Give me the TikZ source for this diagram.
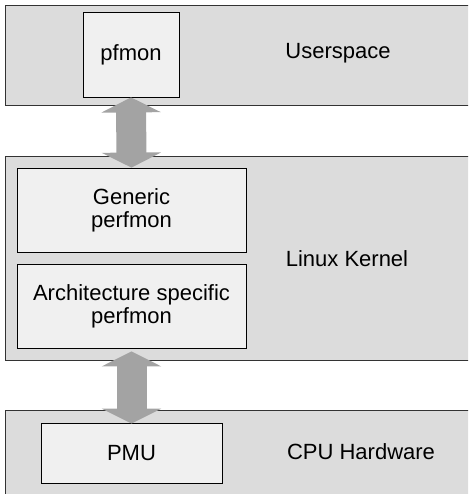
\documentclass[tikz,border=0pt]{standalone}
\usepackage{fontspec}
\setmainfont{Liberation Sans}
\usetikzlibrary{arrows.meta}
\definecolor{bandfill}{HTML}{DCDCDC}
\definecolor{boxfill}{HTML}{F0F0F0}
\definecolor{arrowgray}{HTML}{A3A3A3}
\definecolor{bandline}{HTML}{333333}
\begin{document}
\begin{tikzpicture}[x=1pt,y=-1pt,
  band/.style={draw=bandline,fill=bandfill,line width=0.9pt},
  unitbox/.style={draw=black,fill=boxfill,line width=0.8pt,inner sep=0pt,align=center,
    font=\fontsize{22}{23}\selectfont},
  lbl/.style={inner sep=0pt,font=\fontsize{22}{23}\selectfont},
  biarrow/.style={draw=arrowgray,line width=30pt,
    {Triangle[length=15pt,width=59pt]}-{Triangle[length=15pt,width=59pt]}}]
\useasboundingbox (0,0) rectangle (468,494);
\clip (0,0) rectangle (468,494);
% bands
\draw[band] (5.5,5) rectangle (480,105);
\draw[band] (5.5,156) rectangle (480,360);
\draw[band] (5.5,410) rectangle (480,510);
% boxes
\node[unitbox,minimum width=96pt,minimum height=85pt] (pfmon) at (131,54.5) {pfmon};
\node[unitbox,minimum width=229pt,minimum height=84pt] (generic) at (131.5,210) {Generic\\perfmon};
\node[unitbox,minimum width=229pt,minimum height=84pt] (arch) at (131.5,306) {Architecture specific\\perfmon};
\node[unitbox,minimum width=181pt,minimum height=60pt] (pmu) at (131.5,453) {PMU};
% labels
\node[lbl] (user) at (338,53) {Userspace};
\node[lbl] (kernel) at (347,259) {Linux Kernel};
\node[lbl] (cpu) at (361,452) {CPU Hardware};
% arrows
\draw[biarrow] (pfmon.south) -- (generic.north);
\path (arch.south) ++(0,3) coordinate (a2);
\coordinate (p2) at ([yshift=-1pt]pmu.north);
\draw[biarrow] (a2) -- (p2);
\end{tikzpicture}
\end{document}
